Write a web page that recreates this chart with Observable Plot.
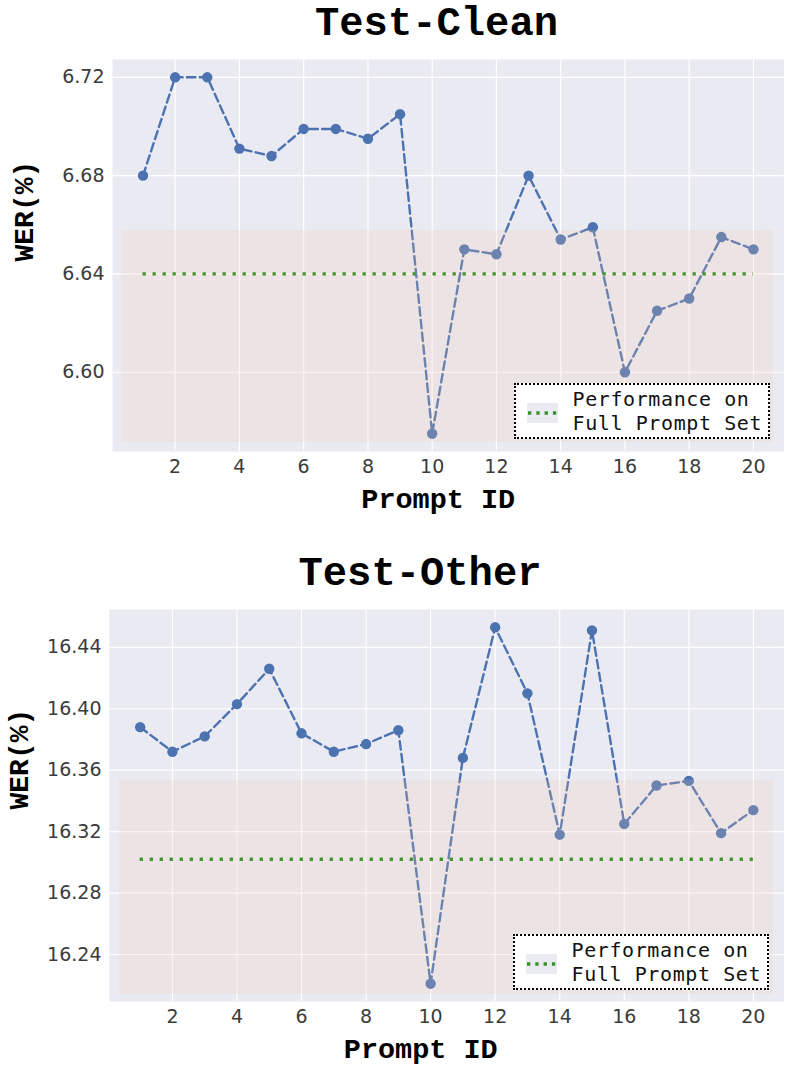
<!DOCTYPE html>
<html>
<head>
<meta charset="utf-8">
<script src="https://cdn.jsdelivr.net/npm/d3@7"></script>
<script src="https://cdn.jsdelivr.net/npm/@observablehq/plot@0.6"></script>
<style>
  body { margin: 0; background: #fff; width: 792px; }
  .title-row { position: relative; width: 792px; }
  .title { position: absolute; transform: translateX(-50%); font-family: "Courier New", "Liberation Mono", monospace; font-weight: bold; font-size: 40.5px; line-height: 40.5px; color: #000; white-space: nowrap; }
  .panel { position: relative; width: 792px; }
  .panel svg { display: block; }
  .legend { position: absolute; width: 256px; height: 56px; border: 2px dotted #000; background: #fff; box-sizing: border-box; }
  .legend .handle { position: absolute; left: 10.5px; top: 18px; width: 31px; height: 20px; background: #eaeaf2; }
  .legend .handle svg { position: absolute; left: 0; top: 0; }
  .legend .label { position: absolute; left: 56.5px; top: 2px; font-family: "DejaVu Sans Mono", monospace; font-size: 20px; line-height: 24px; letter-spacing: 0.6px; color: #111; white-space: nowrap; }
</style>
</head>
<body>
<div id="root"></div>
<script>
// ---- data ----
const promptIds = [1, 2, 3, 4, 5, 6, 7, 8, 9, 10, 11, 12, 13, 14, 15, 16, 17, 18, 19, 20];
const cleanWER = [6.680, 6.720, 6.720, 6.691, 6.688, 6.699, 6.699, 6.695, 6.705, 6.575,
                  6.650, 6.648, 6.680, 6.654, 6.659, 6.600, 6.625, 6.630, 6.655, 6.650];
const otherWER = [16.388, 16.372, 16.382, 16.403, 16.426, 16.384, 16.372, 16.377, 16.386, 16.221,
                  16.368, 16.453, 16.410, 16.318, 16.451, 16.325, 16.350, 16.353, 16.319, 16.334];
const cleanFull = 6.64;
const otherFull = 16.302;
const cleanBand = [6.5715, 6.6576];
const otherBand = [16.2141, 16.3536];
const bandSpan = [0.35, 20.62];
const fullSpan = [1, 20];
const xTicks = [2, 4, 6, 8, 10, 12, 14, 16, 18, 20];
const cleanYTicks = [6.60, 6.64, 6.68, 6.72];
const otherYTicks = [16.24, 16.28, 16.32, 16.36, 16.40, 16.44];
const titles = ["Test-Clean", "Test-Other"];
const xLabel = "Prompt ID";
const yLabel = "WER(%)";
const legendLines = ["Performance on", "Full Prompt Set"];

const BLUE = "#4C72B0";
const GREEN = "#43962f";
const MONO = "Courier New, Liberation Mono, monospace";

function padDomain(vals, p) {
  const [a, b] = d3.extent(vals);
  const r = b - a;
  return [a - p * r, b + p * r];
}

function makePanel(cfg) {
  const rows = promptIds.map((id, i) => ({id, wer: cfg.values[i]}));
  const band = [{x1: bandSpan[0], x2: bandSpan[1], y1: cfg.band[0], y2: cfg.band[1]}];
  const full = [{x1: fullSpan[0], x2: fullSpan[1], y: cfg.full}];
  return Plot.plot({
    width: 792,
    height: cfg.height,
    marginLeft: cfg.marginLeft,
    marginRight: 8.5,
    marginTop: 11,
    marginBottom: cfg.marginBottom,
    style: {fontFamily: "DejaVu Sans", fontSize: "19px", color: "#3b3b3b", background: "white", overflow: "visible"},
    x: {domain: padDomain(promptIds, 0.05)},
    y: {domain: padDomain(cfg.values, 0.05)},
    marks: [
      Plot.frame({fill: "#eaeaf2", stroke: "none"}),
      Plot.gridX(xTicks, {stroke: "white", strokeOpacity: 1, strokeWidth: 1.2}),
      Plot.gridY(cfg.yTicks, {stroke: "white", strokeOpacity: 1, strokeWidth: 1.2}),
      Plot.line(rows, {x: "id", y: "wer", stroke: BLUE, strokeWidth: 2.4, strokeDasharray: "8.5,4.3"}),
      Plot.dot(rows, {x: "id", y: "wer", r: 5.2, fill: BLUE, stroke: "none"}),
      Plot.rect(band, {x1: "x1", x2: "x2", y1: "y1", y2: "y2", fill: "#f4c7b1", fillOpacity: 0.2}),
      Plot.ruleY(full, {y: "y", x1: "x1", x2: "x2", stroke: GREEN, strokeWidth: 3.3, strokeDasharray: "3.3,6.7"}),
      Plot.axisX({ticks: xTicks, tickSize: 0, tickPadding: 8, label: null, tickFormat: d3.format("d")}),
      Plot.axisY({ticks: cfg.yTicks, tickSize: 0, tickPadding: 8, label: null, tickFormat: d3.format(".2f")}),
      Plot.text([xLabel], {frameAnchor: "bottom", dx: cfg.xLabelDx, dy: 47, lineAnchor: "middle",
        fontFamily: MONO, fontWeight: "bold", fontSize: 28.5, fill: "#000"}),
      Plot.text([yLabel], {frameAnchor: "left", rotate: -90, dx: cfg.yLabelX - cfg.marginLeft, dy: cfg.yLabelDy,
        lineAnchor: "middle", fontFamily: MONO, fontWeight: "bold", fontSize: 28, fill: "#000"})
    ]
  });
}

function makeLegend(left, top) {
  const lg = document.createElement("div");
  lg.className = "legend";
  lg.style.left = left + "px";
  lg.style.top = top + "px";
  lg.innerHTML =
    '<div class="handle"><svg width="31" height="20"><line x1="1" x2="31" y1="10" y2="10" stroke="#3a8f2c" stroke-width="3.3" stroke-dasharray="3.3,5"/></svg></div>' +
    '<div class="label">' + legendLines.join("<br>") + '</div>';
  return lg;
}

const root = document.getElementById("root");
const configs = [
  {title: titles[0], titleCenter: 436.5, titleH: 48, titleTop: 4, values: cleanWER, full: cleanFull, band: cleanBand,
   yTicks: cleanYTicks, height: 482, marginLeft: 112, marginBottom: 79, xLabelDx: -10, yLabelX: 24, yLabelDy: 6,
   legendLeft: 514, legendTop: 335},
  {title: titles[1], titleCenter: 420, titleH: 68, titleTop: 24, values: otherWER, full: otherFull, band: otherBand,
   yTicks: otherYTicks, height: 476, marginLeft: 109, marginBottom: 73, xLabelDx: -26, yLabelX: 19, yLabelDy: 4,
   legendLeft: 513, legendTop: 336}
];

for (const cfg of configs) {
  const tr = document.createElement("div");
  tr.className = "title-row";
  tr.style.height = cfg.titleH + "px";
  const t = document.createElement("div");
  t.className = "title";
  t.style.left = cfg.titleCenter + "px";
  t.style.top = cfg.titleTop + "px";
  t.textContent = cfg.title;
  tr.appendChild(t);
  root.appendChild(tr);

  const p = document.createElement("div");
  p.className = "panel";
  p.appendChild(makePanel(cfg));
  p.appendChild(makeLegend(cfg.legendLeft, cfg.legendTop));
  root.appendChild(p);
}
</script>
</body>
</html>
